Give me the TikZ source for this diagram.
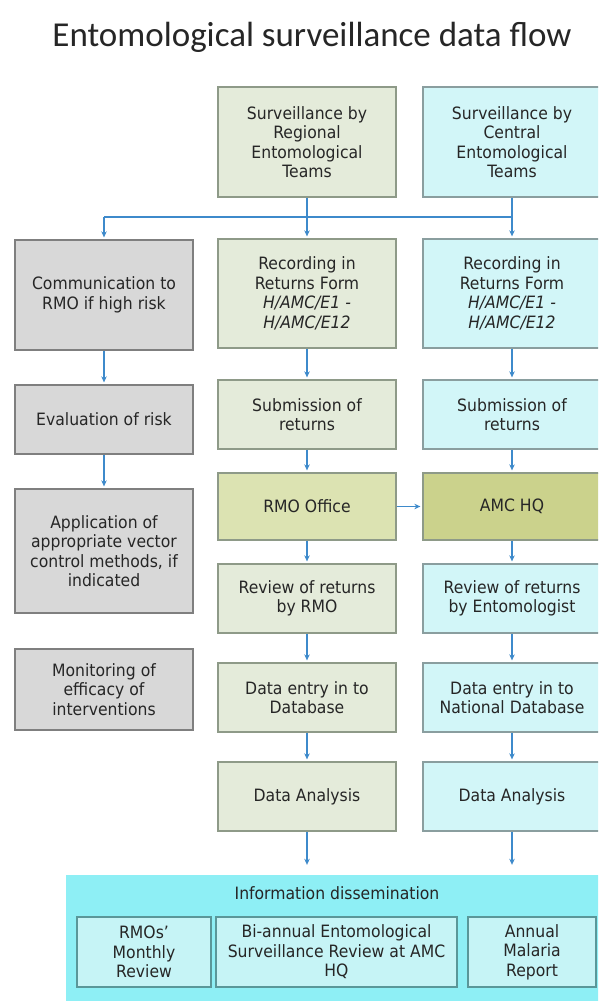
\documentclass[tikz,border=0pt]{standalone}
\usepackage{fontspec}
\setmainfont{DejaVu Sans}[FakeStretch=0.92]
\newfontfamily\titlefont{Carlito}
\usetikzlibrary{arrows.meta}
\definecolor{txt}{HTML}{262626}
\definecolor{conn}{HTML}{3E8ACB}
\definecolor{sage}{HTML}{E4EBDA}
\definecolor{sageline}{HTML}{8E9A88}
\definecolor{olivelight}{HTML}{DCE3B2}
\definecolor{olivedark}{HTML}{CBD28C}
\definecolor{cyanlight}{HTML}{D2F6F8}
\definecolor{cyanline}{HTML}{8A9E9F}
\definecolor{greyfill}{HTML}{D8D8D8}
\definecolor{greyline}{HTML}{7F7F7F}
\definecolor{infofill}{HTML}{8EEFF5}
\definecolor{innerfill}{HTML}{C6F4F6}
\definecolor{innerline}{HTML}{5A9799}
\begin{document}
\begin{tikzpicture}[x=1pt,y=-1pt,
  box/.style={rectangle, draw, line width=1.3pt, inner sep=2pt, align=center,
    text=txt, font=\fontsize{17}{19.5}\selectfont, minimum width=178pt},
  midbox/.style={box, fill=sage, draw=sageline},
  rightbox/.style={box, fill=cyanlight, draw=cyanline},
  leftbox/.style={box, fill=greyfill, draw=greyline},
  innerbox/.style={box, fill=innerfill, draw=innerline, minimum height=70pt},
  link/.style={draw=conn, line width=1.6pt},
  arr/.style={link, -{Stealth[length=6pt,width=5.5pt]}, shorten >=2pt}
]
\useasboundingbox (0,0) rectangle (598,1001);
\clip (0,0) rectangle (598,1001);
\fill[white] (0,0) rectangle (598,1001);

% title
\node[text=txt, font=\titlefont\fontsize{35}{40}\selectfont] (title) at (312,37) {Entomological surveillance data flow};

% left column
\node[leftbox, minimum height=110pt] (comm) at (104,295) {Communication to\\RMO if high risk};
\node[leftbox, minimum height=69pt] (eval) at (104,419.5) {Evaluation of risk};
\node[leftbox, minimum height=124pt] (appl) at (104,551) {Application of\\appropriate vector\\control methods, if\\indicated};
\node[leftbox, minimum height=81pt] (moni) at (104,689.5) {Monitoring of\\efficacy of\\interventions};

% middle column
\node[midbox, minimum height=110pt] (survR) at (307,142) {Surveillance by\\Regional\\Entomological\\Teams};
\node[midbox, minimum height=109pt] (recR) at (307,293.5) {Recording in\\Returns Form\\\textit{H/AMC/E1 -}\\\textit{H/AMC/E12}};
\node[midbox, minimum height=69pt] (subR) at (307,414.5) {Submission of\\returns};
\node[midbox, fill=olivelight, minimum height=67pt] (office) at (307,506.5) {RMO Office};
\node[midbox, minimum height=69pt] (revR) at (307,598.5) {Review of returns\\by RMO};
\node[midbox, minimum height=69pt] (entR) at (307,697.5) {Data entry in to\\Database};
\node[midbox, minimum height=69pt] (anaR) at (307,796.5) {Data Analysis};

% right column
\node[rightbox, minimum height=110pt] (survC) at (512,142) {Surveillance by\\Central\\Entomological\\Teams};
\node[rightbox, minimum height=109pt] (recC) at (512,293.5) {Recording in\\Returns Form\\\textit{H/AMC/E1 -}\\\textit{H/AMC/E12}};
\node[rightbox, minimum height=69pt] (subC) at (512,414.5) {Submission of\\returns};
\node[rightbox, fill=olivedark, draw=sageline, minimum height=67pt] (amc) at (512,506.5) {AMC HQ};
\node[rightbox, minimum height=69pt] (revC) at (512,598.5) {Review of returns\\by Entomologist};
\node[rightbox, minimum height=69pt] (entC) at (512,697.5) {Data entry in to\\National Database};
\node[rightbox, minimum height=69pt] (anaC) at (512,796.5) {Data Analysis};

% information dissemination
\node[rectangle, fill=infofill, minimum width=542pt, minimum height=129pt] (info) at (337,939.5) {};
\node[text=txt, font=\fontsize{17}{19.5}\selectfont] (infot) at (337,893) {Information dissemination};
\node[innerbox, minimum width=134pt] (rmos) at (144,952) {RMOs'\\Monthly\\Review};
\node[innerbox, minimum width=241pt] (biann) at (336.5,952) {Bi-annual Entomological\\Surveillance Review at AMC\\HQ};
\node[innerbox, minimum width=128pt] (annual) at (532,952) {Annual\\Malaria\\Report};

% connectors
\coordinate (jL) at (104,217);
\coordinate (jM) at (307,217);
\coordinate (jR) at (512,217);
\draw[link] (survR) -- (jM);
\draw[link] (survC) -- (jR);
\draw[link] (jL) -- (jR);
\draw[arr] (jL) -- (comm);
\draw[arr] (jM) -- (recR);
\draw[arr] (jR) -- (recC);

\draw[arr] (comm) -- (eval);
\draw[arr] (eval) -- (appl);

\draw[arr] (recR) -- (subR);
\draw[arr] (subR) -- (office);
\draw[arr] (office) -- (revR);
\draw[arr] (revR) -- (entR);
\draw[arr] (entR) -- (anaR);
\draw[arr, shorten >=10pt] (anaR.south) -- (anaR.south |- info.north);

\draw[arr] (recC) -- (subC);
\draw[arr] (subC) -- (amc);
\draw[arr] (amc) -- (revC);
\draw[arr] (revC) -- (entC);
\draw[arr] (entC) -- (anaC);
\draw[arr, shorten >=10pt] (anaC.south) -- (anaC.south |- info.north);

\draw[arr] (office) -- (amc);
\end{tikzpicture}
\end{document}
